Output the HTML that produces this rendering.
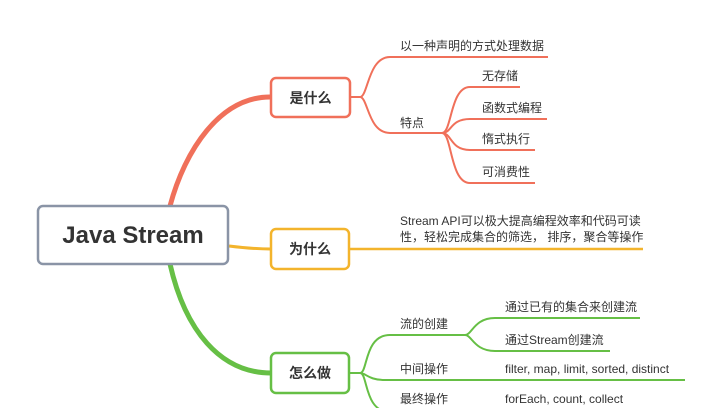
<!DOCTYPE html>
<html><head><meta charset="utf-8"><style>
html,body{margin:0;padding:0;background:#fff;}
svg{display:block;}
text{font-family:"Liberation Sans","Noto Sans CJK SC",sans-serif;fill:#333;}
</style></head><body>
<svg width="720" height="408" viewBox="0 0 720 408" xmlns="http://www.w3.org/2000/svg">
<!-- main connectors -->
<path d="M170,206 C185,150 220,97 270,97" fill="none" stroke="#f0705a" stroke-width="5"/>
<path d="M170,264 C185,330 220,373 271,373" fill="none" stroke="#66bf45" stroke-width="5"/>
<path d="M229,246 C245,248 255,249 271,249" fill="none" stroke="#f3b42c" stroke-width="3"/>
<!-- red subtree -->
<g fill="none" stroke="#f0705a" stroke-width="2">
<path d="M350,97 L360,97 C368,97 368,57 390,57 L548,57"/>
<path d="M360,97 C368,97 368,133 390,133 L442,133"/>
<path d="M442,133 C452,133 450,87 470,87 L520,87"/>
<path d="M442,133 C452,133 450,119 470,119 L547,119"/>
<path d="M442,133 C452,133 450,150 470,150 L535,150"/>
<path d="M442,133 C452,133 450,183 470,183 L535,183"/>
</g>
<!-- orange -->
<path d="M349,249 L643,249" stroke="#f3b42c" stroke-width="2.5"/>
<!-- green subtree -->
<g fill="none" stroke="#66bf45" stroke-width="2">
<path d="M349,373 L360,373 C368,373 364,335 390,335 L465,335"/>
<path d="M465,335 C472,335 474,318 495,318 L640,318"/>
<path d="M465,335 C472,335 474,351 495,351 L610,351"/>
<path d="M360,373 C366,373 368,380 385,380 L685,380"/>
<path d="M360,373 C368,373 364,412 390,412 L700,412"/>
</g>
<!-- boxes -->
<rect x="38" y="206" width="190" height="58" rx="5" fill="#fff" stroke="#8a94a6" stroke-width="2.5"/>
<text x="133" y="243" font-size="24" font-weight="bold" text-anchor="middle">Java Stream</text>
<rect x="271" y="78" width="79" height="39" rx="5" fill="#fff" stroke="#f0705a" stroke-width="2.5"/>
<text x="310.5" y="103" font-size="14" font-weight="bold" text-anchor="middle">是什么</text>
<rect x="271" y="229" width="78" height="40" rx="5" fill="#fff" stroke="#f3b42c" stroke-width="2.5"/>
<text x="310" y="254" font-size="14" font-weight="bold" text-anchor="middle">为什么</text>
<rect x="271" y="353" width="78" height="40" rx="5" fill="#fff" stroke="#66bf45" stroke-width="2.5"/>
<text x="310" y="378" font-size="14" font-weight="bold" text-anchor="middle">怎么做</text>
<!-- labels -->
<g font-size="12">
<text x="400" y="50">以一种声明的方式处理数据</text>
<text x="400" y="127">特点</text>
<text x="482" y="80">无存储</text>
<text x="482" y="112">函数式编程</text>
<text x="482" y="143">惰式执行</text>
<text x="482" y="176">可消费性</text>
<text x="400" y="225">Stream API可以极大提高编程效率和代码可读</text>
<text x="400" y="241">性，轻松完成集合的筛选， 排序，聚合等操作</text>
<text x="400" y="328">流的创建</text>
<text x="505" y="311">通过已有的集合来创建流</text>
<text x="505" y="344">通过Stream创建流</text>
<text x="400" y="373">中间操作</text>
<text x="505" y="373">filter, map, limit, sorted, distinct</text>
<text x="400" y="403">最终操作</text>
<text x="505" y="403">forEach, count, collect</text>
</g>
</svg>
</body></html>
